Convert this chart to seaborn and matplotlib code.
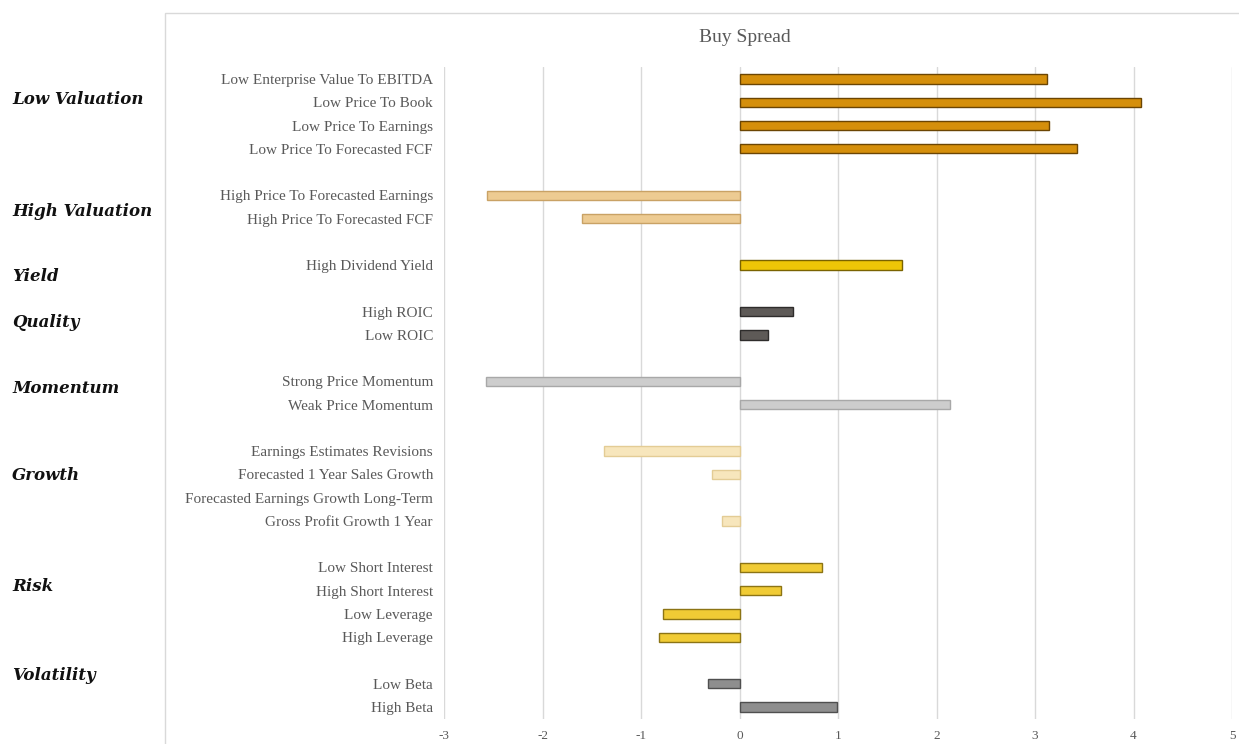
import matplotlib
matplotlib.use("Agg")
import matplotlib.pyplot as plt
import matplotlib.transforms as mtransforms
from matplotlib.patches import Rectangle
import seaborn as sns
import pandas as pd

# Factor spreads, listed top to bottom
items = [
    "Low Enterprise Value To EBITDA", "Low Price To Book", "Low Price To Earnings",
    "Low Price To Forecasted FCF",
    "High Price To Forecasted Earnings", "High Price To Forecasted FCF",
    "High Dividend Yield",
    "High ROIC", "Low ROIC",
    "Strong Price Momentum", "Weak Price Momentum",
    "Earnings Estimates Revisions", "Forecasted 1 Year Sales Growth",
    "Forecasted Earnings Growth Long-Term", "Gross Profit Growth 1 Year",
    "Low Short Interest", "High Short Interest", "Low Leverage", "High Leverage",
    "Low Beta", "High Beta",
]
values = [
    3.12, 4.08, 3.14, 3.43,
    -2.56, -1.60,
    1.65,
    0.54, 0.29,
    -2.57, 2.14,
    -1.38, -0.28, 0.0, -0.18,
    0.84, 0.42, -0.78, -0.82,
    -0.32, 0.99,
]
groups = (
    ["Low Valuation"] * 4 + ["High Valuation"] * 2 + ["Yield"] + ["Quality"] * 2
    + ["Momentum"] * 2 + ["Growth"] * 4 + ["Risk"] * 4 + ["Volatility"] * 2
)
group_names = ["Low Valuation", "High Valuation", "Yield", "Quality",
               "Momentum", "Growth", "Risk", "Volatility"]
x_ticks = [-3, -2, -1, 0, 1, 2, 3, 4, 5]

# Colours per factor group: (fill, edge)
group_colors = {
    "Low Valuation": ("#D58F0B", "#6B4503"),
    "High Valuation": ("#EDCB92", "#C9A265"),
    "Yield": ("#EEC607", "#7A6300"),
    "Quality": ("#5E5A57", "#2E2C2B"),
    "Momentum": ("#CDCDCD", "#A8A8A8"),
    "Growth": ("#F7E6BC", "#E3CC95"),
    "Risk": ("#F0CB35", "#8C7414"),
    "Volatility": ("#8E8E8E", "#4F4F4F"),
}

df = pd.DataFrame({"item": items, "value": values, "group": groups})

# Row order with an empty slot between factor groups
order = []
for i, g in enumerate(group_names):
    if i > 0:
        order.append(f"__gap{i}")
    order.extend(df.loc[df["group"] == g, "item"].tolist())

W, H, DPI = 1239, 744, 100
fig = plt.figure(figsize=(W / DPI, H / DPI), dpi=DPI)
sns.set_style("white")
plt.rcParams["font.family"] = ["Liberation Serif", "DejaVu Serif"]

ax = fig.add_axes([444 / W, 1 - 718.6 / H, (1232 - 444) / W, (718.6 - 67.4) / H])

sns.barplot(
    data=df, x="value", y="item", hue="group", order=order,
    hue_order=group_names,
    palette={g: c[0] for g, c in group_colors.items()},
    orient="h", dodge=False, width=0.4, legend=False, ax=ax,
    saturation=1,
)

# darker rim on each bar, following its group colour
for container, g in zip(ax.containers, group_names):
    for bar in container:
        if bar.get_width() == 0:
            bar.set_visible(False)
            continue
        bar.set_edgecolor(group_colors[g][1])
        bar.set_linewidth(1.0)

ax.set_xlim(-3, 5)
ax.set_ylim(len(order) - 0.5, -0.5)
ax.set_xticks(x_ticks)
ax.set_xticklabels([str(t) for t in x_ticks], color="#595959", fontsize=9.5)
ax.tick_params(axis="x", length=0, pad=8)
ax.tick_params(axis="y", length=0, pad=8)
ax.set_yticks(range(len(order)))
ax.set_yticklabels(["" if o.startswith("__gap") else o for o in order],
                   color="#595959", fontsize=11)
ax.set_xlabel("")
ax.set_ylabel("")
ax.grid(axis="x", color="#D9D9D9", linewidth=1)
ax.set_axisbelow(True)
for s in ax.spines.values():
    s.set_visible(False)

# group captions at the far left
trans = mtransforms.blended_transform_factory(fig.transFigure, ax.transData)
caption_rows = [0.9, 5.7, 8.5, 10.45, 13.3, 17.05, 21.8, 25.65]
for g, r in zip(group_names, caption_rows):
    ax.text(12 / W, r, g, transform=trans, ha="left", va="center",
            fontsize=12, fontweight="bold", fontstyle="italic",
            family=["DejaVu Serif"], color="#111111")

# chart frame and title
fig.patches.append(Rectangle((165 / W, -0.01), 1.0, 1 - 13 / H + 0.01,
                             transform=fig.transFigure, fill=False,
                             edgecolor="#D9D9D9", linewidth=1))
fig.text(745 / W, 1 - 38 / H, "Buy Spread", ha="center", va="center",
         fontsize=14, color="#595959")

fig.savefig("out.png", dpi=DPI)
